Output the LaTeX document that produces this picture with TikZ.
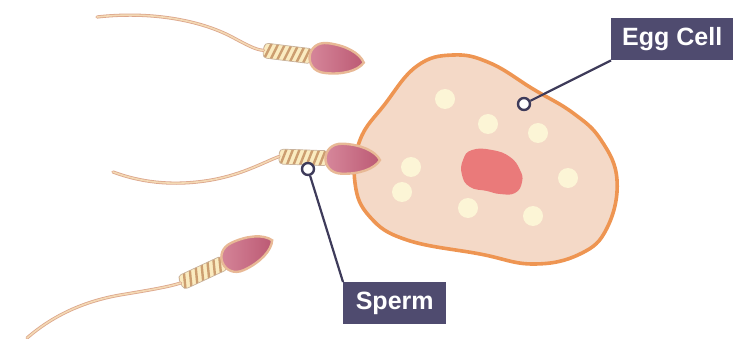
\documentclass[tikz,border=0pt]{standalone}
\usepackage{fontspec}
\setmainfont{Liberation Sans}
\definecolor{eggfill}{HTML}{F4D9C7}
\definecolor{eggline}{HTML}{EE9552}
\definecolor{yolk}{HTML}{FCF5D6}
\definecolor{nucleus}{HTML}{EA7A7A}
\definecolor{headlight}{HTML}{D98C9F}
\definecolor{headdark}{HTML}{BC5A74}
\definecolor{headrim}{HTML}{E8B996}
\definecolor{midcream}{HTML}{FAEBC0}
\definecolor{midstripe}{HTML}{CC9E70}
\definecolor{tailedge}{HTML}{DCA68C}
\definecolor{tailcore}{HTML}{F4D9B4}
\definecolor{labelbg}{HTML}{4F4B6F}
\definecolor{pointerc}{HTML}{3E3B5A}
\tikzset{
  sperm/.pic={
    % striped midpiece
    \begin{scope}
      \clip[rounded corners=4] (-71,-7.5) rectangle (-22,7.5);
      \fill[midcream] (-71,-7.5) rectangle (-22,7.5);
      \foreach \k in {-76,-69.5,...,-18} \draw[stripe] (\k,8.5) -- (\k+6,-8.5);
    \end{scope}
    \draw[midpiece,rounded corners=4] (-71,-7.5) rectangle (-22,7.5);
    % head
    \path[headshape] (30,0) .. controls (25,-9) and (10,-15) .. (-8,-15)
      .. controls (-30,-15) and (-30,15) .. (-8,15)
      .. controls (10,15) and (25,9) .. (30,0) -- cycle;
    \coordinate (-base) at (-71,0);
  }
}
\begin{document}
\begin{tikzpicture}[x=1pt,y=-1pt,
  eggcell/.style={fill=eggfill,draw=eggline,line width=3.6},
  yolkdot/.style={fill=yolk,draw=none},
  nucleusblob/.style={fill=nucleus,draw=none},
  headshape/.style={left color=headlight,right color=headdark,draw=headrim,line width=2.4},
  midpiece/.style={draw=midstripe!80!black!60,line width=0.7},
  stripe/.style={draw=midstripe,line width=2.4},
  tail/.style={draw=tailedge,line width=3.2,line cap=round,
    postaction={draw=tailcore,line width=1.6}},
  labelbox/.style={fill=labelbg,text=white,font=\bfseries\fontsize{25}{28}\selectfont,
    inner sep=0pt,minimum height=42,anchor=north west},
  pointer/.style={draw=pointerc,line width=2.2},
  pinend/.style={circle,draw=pointerc,fill=white,line width=2.4,minimum size=12,inner sep=0pt}]
\useasboundingbox (0,0) rectangle (735,339);

% egg cell body
\draw[eggcell] plot[smooth cycle,tension=0.7] coordinates {
  (453,55) (417,66) (385,104) (360,140) (355,183) (370,217) (407,240)
  (480,254) (533,264) (580,254) (607,228) (617,180) (601,140) (573,113)
  (533,89) (490,63)};

% yolk granules
\foreach \px/\py in {445/99, 488/124, 538/133, 411/167, 402/192, 468/208, 533/216, 568/178}
  \fill[yolkdot] (\px,\py) circle (10);

% nucleus
\fill[nucleusblob] plot[smooth cycle,tension=0.8] coordinates {
  (472,150) (492,150) (510,157) (520,170) (522,182) (515,193) (500,194)
  (487,191) (470,187) (462,175) (463,160)};

% three sperm cells
\pic[rotate=-7] (s1) at (334,59) {sperm};
\pic[rotate=-2] (s2) at (350,159) {sperm};
\pic[rotate=25] (s3) at (245,253) {sperm};

\draw[tail] (97,17) .. controls (150,11) and (200,20) .. (232,37)
  .. controls (247,45) and (256,50) .. (s1-base);
\draw[tail] (113,172) .. controls (140,182) and (170,186) .. (205,181)
  .. controls (240,176) and (262,163) .. (s2-base);
\draw[tail] (27,338) .. controls (50,318) and (80,302) .. (120,295)
  .. controls (150,290) and (168,287) .. (s3-base);

% labels
\node[labelbox,minimum width=122] (egglabel) at (611,18) {Egg Cell};
\node[labelbox,minimum width=103] (spermlabel) at (343,282) {Sperm};

\node[pinend] (eggpin) at (524,104) {};
\node[pinend] (spermpin) at (308,169) {};
\draw[pointer] (eggpin) -- (egglabel.south west);
\draw[pointer] (spermpin) -- (spermlabel.north west);
\end{tikzpicture}
\end{document}
